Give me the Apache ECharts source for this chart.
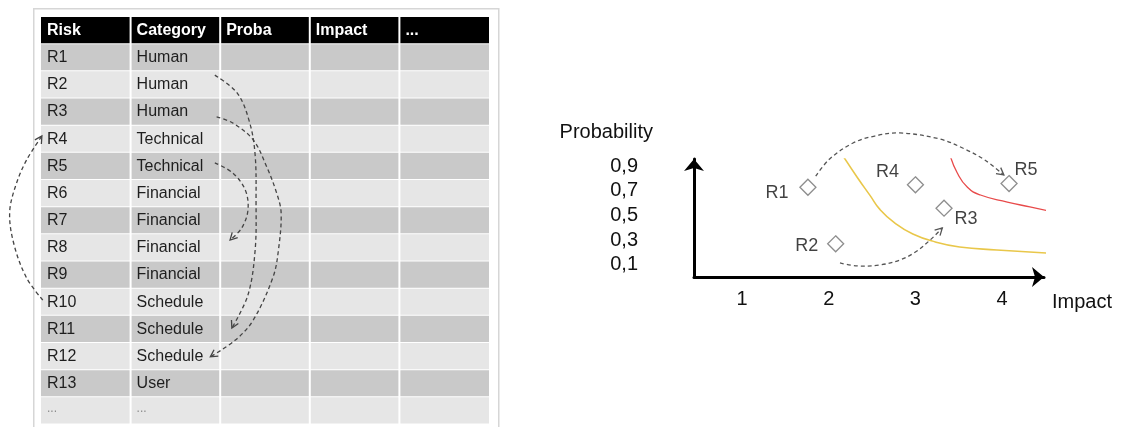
<!DOCTYPE html>
<html><head><meta charset="utf-8">
<script src="https://cdn.jsdelivr.net/npm/echarts@6/dist/echarts.min.js"></script>
<style>html,body{margin:0;padding:0;background:#fff}#c{width:1121px;height:427px}</style>
</head><body><div id="c"></div>
<script>
// ---------- table data ----------
const tableColumns = ['Risk', 'Category', 'Proba', 'Impact', '...'];
const riskIds = ['R1','R2','R3','R4','R5','R6','R7','R8','R9','R10','R11','R12','R13','...'];
const riskCategories = ['Human','Human','Human','Technical','Technical','Financial','Financial','Financial','Financial','Schedule','Schedule','Schedule','User','...'];
// dashed re-assignment arrows drawn over the table, in (column, row) units
const tableArrowR2toR11 = [[1.94,2.14],[2.19,2.80],[2.33,3.90],[2.39,5.08],[2.40,6.74],[2.39,8.58],[2.31,10.23],[2.13,11.45]];
const tableArrowR3toR12 = [[1.96,3.68],[2.14,3.90],[2.37,4.53],[2.52,5.52],[2.63,6.48],[2.68,7.21],[2.65,8.58],[2.59,9.57],[2.37,11.15],[2.17,11.89],[1.89,12.51]];
const tableArrowR5toR8 = [[1.94,5.37],[2.14,5.74],[2.28,6.37],[2.31,7.10],[2.24,7.77],[2.11,8.21]];
const tableArrowR10toR4 = [[0.02,10.42],[-0.16,9.61],[-0.30,8.39],[-0.35,7.21],[-0.28,6.18],[-0.16,5.26],[0.01,4.38]];

// ---------- chart data ----------
const chartRisks = ['R1','R2','R3','R4','R5'];
const chartImpact = [1.76, 2.08, 3.33, 3.00, 4.08];
const chartProbability = [0.73, 0.27, 0.56, 0.75, 0.76];
const impactTicks = [1, 2, 3, 4];
const probabilityTicks = [0.1, 0.3, 0.5, 0.7, 0.9];
const yellowThreshold = [[2.16,0.99],[2.33,0.81],[2.48,0.66],[2.59,0.55],[2.76,0.44],[2.97,0.35],[3.23,0.285],[3.51,0.244],[3.94,0.22],[4.52,0.195]];
const redThreshold = [[3.40,0.99],[3.48,0.85],[3.60,0.73],[3.75,0.667],[4.06,0.61],[4.32,0.57],[4.58,0.53]];
const chartArrowR1toR5 = [[1.85,0.82],[2.01,0.96],[2.28,1.09],[2.53,1.147],[2.82,1.172],[3.28,1.123],[3.57,1.041],[3.80,0.952],[4.02,0.83]];
const chartArrowR2toR3 = [[2.13,0.114],[2.33,0.09],[2.59,0.098],[2.82,0.138],[3.00,0.203],[3.17,0.301],[3.31,0.399]];

// ---------- styles (kept apart from data) ----------
const FONT = "'Liberation Sans', Arial, sans-serif";
const labelOffsets = { R1: [-31, 6], R2: [-29, 2], R3: [22, 11], R4: [-28, -13], R5: [17, -14] };

function cellText(col, row) {
  if (row === 0) return tableColumns[col];
  if (col === 0) return riskIds[row - 1];
  if (col === 1) return riskCategories[row - 1];
  return '';
}
const cellData = [];
for (let r = 0; r <= riskIds.length; r++) for (let c = 0; c < tableColumns.length; c++) cellData.push([c, r]);

function renderCell(params, api) {
  const col = api.value(0), row = api.value(1);
  const a = api.coord([col, row]), b = api.coord([col + 1, row + 1]);
  const x = Math.min(a[0], b[0]), y = Math.min(a[1], b[1]);
  const w = Math.abs(b[0] - a[0]), h = Math.abs(b[1] - a[1]);
  const header = row === 0;
  const lastRow = row === riskIds.length;
  const fill = header ? '#000' : (row % 2 === 1 ? '#c9c9c9' : '#e6e6e6');
  const li = col > 0 ? 1 : 0, ri = col < tableColumns.length - 1 ? 1 : 0;
  const txt = cellText(col, row);
  const children = [{ type: 'rect', shape: { x: x + li, y: y, width: w - li - ri, height: h - 1 }, style: { fill: fill } }];
  if (txt) {
    children.push({ type: 'text', style: {
      x: x + 6, y: y + h / 2 - (lastRow ? 2 : 0), text: txt,
      fill: header ? '#fff' : (lastRow ? '#8a8a8a' : '#1e1e1e'),
      font: (header ? 'bold ' : '') + (lastRow ? '12px ' : '16px ') + FONT,
      align: 'left', verticalAlign: 'middle' } });
  }
  return { type: 'group', children: children };
}

function arrowRenderer(paths, color) {
  return function (params, api) {
    const pts = paths[params.dataIndex].map(p => api.coord(p));
    const n = pts.length, tip = pts[n - 1], prev = pts[n - 2];
    const ang = Math.atan2(tip[1] - prev[1], tip[0] - prev[0]);
    const L = 8, s = 0.5;
    const h1 = [tip[0] - L * Math.cos(ang - s), tip[1] - L * Math.sin(ang - s)];
    const h2 = [tip[0] - L * Math.cos(ang + s), tip[1] - L * Math.sin(ang + s)];
    return { type: 'group', children: [
      { type: 'polyline', shape: { points: pts, smooth: 0.35 }, style: { stroke: color, lineWidth: 1.3, lineDash: [4, 3], fill: null } },
      { type: 'polyline', shape: { points: [h1, tip, h2] }, style: { stroke: color, lineWidth: 1.3, fill: null } }
    ] };
  };
}
const tableArrows = [tableArrowR2toR11, tableArrowR3toR12, tableArrowR5toR8, tableArrowR10toR4];
const chartArrows = [chartArrowR1toR5, chartArrowR2toR3];

const axisLineStyle = { show: true, onZero: false, symbol: ['none', 'arrow'], symbolSize: [15, 12], lineStyle: { color: '#000', width: 3 } };

const option = {
  animation: false,
  backgroundColor: '#fff',
  textStyle: { fontFamily: FONT },
  graphic: [{ type: 'rect', left: 33, top: 8, z: 0, shape: { width: 465, height: 440 }, style: { fill: '#fff', stroke: '#d6d6d6', lineWidth: 1.5 } }],
  grid: [
    { left: 694, top: 159, width: 350, height: 118 },
    { left: 41, top: 17, width: 448, height: 407.5 }
  ],
  xAxis: [
    { type: 'value', gridIndex: 0, min: 0.446, max: 4.483, axisLine: axisLineStyle,
      axisTick: { show: false }, splitLine: { show: false },
      axisLabel: { customValues: impactTicks, margin: 12, fontSize: 20, color: '#111', fontFamily: FONT },
      name: 'Impact', nameLocation: 'end', nameGap: 8,
      nameTextStyle: { fontSize: 20, color: '#111', fontFamily: FONT, align: 'left', verticalAlign: 'top', padding: [15, 0, 0, 0] } },
    { type: 'value', gridIndex: 1, min: 0, max: tableColumns.length, show: false }
  ],
  yAxis: [
    { type: 'value', gridIndex: 0, min: 0, max: 0.96, axisLine: axisLineStyle,
      axisTick: { show: false }, splitLine: { show: false },
      axisLabel: { customValues: probabilityTicks, margin: 56, fontSize: 20, color: '#111', fontFamily: FONT,
        formatter: v => v.toFixed(1).replace('.', ',') },
      name: 'Probability', nameLocation: 'end', nameGap: 17,
      nameTextStyle: { fontSize: 20, color: '#111', fontFamily: FONT, align: 'right', padding: [0, 41, 0, 0] } },
    { type: 'value', gridIndex: 1, min: 0, max: riskIds.length + 1, inverse: true, show: false }
  ],
  series: [
    { type: 'custom', xAxisIndex: 1, yAxisIndex: 1, z: 2, silent: true, renderItem: renderCell, data: cellData },
    { type: 'custom', xAxisIndex: 1, yAxisIndex: 1, z: 5, silent: true, clip: false,
      renderItem: arrowRenderer(tableArrows, '#444'), data: tableArrows.map((p, i) => [i, i]) },
    { type: 'line', xAxisIndex: 0, yAxisIndex: 0, smooth: true, showSymbol: false, silent: true, z: 3,
      lineStyle: { color: '#e9c74a', width: 1.6 }, data: yellowThreshold },
    { type: 'line', xAxisIndex: 0, yAxisIndex: 0, smooth: true, showSymbol: false, silent: true, z: 3,
      lineStyle: { color: '#e84a4a', width: 1.3 }, data: redThreshold },
    { type: 'custom', xAxisIndex: 0, yAxisIndex: 0, z: 4, silent: true, clip: false,
      renderItem: arrowRenderer(chartArrows, '#555'), data: chartArrows.map((p, i) => [i, i]) },
    { type: 'scatter', xAxisIndex: 0, yAxisIndex: 0, z: 10, symbol: 'diamond', symbolSize: 16,
      itemStyle: { color: '#fff', borderColor: '#707070', borderWidth: 1.3 },
      label: { show: true, position: 'inside', formatter: '{b}', fontSize: 18, color: '#111', fontFamily: FONT },
      data: chartRisks.map((name, i) => ({ name: name, value: [chartImpact[i], chartProbability[i]], label: { offset: labelOffsets[name] } })) }
  ]
};
const chart = echarts.init(document.getElementById('c'));
chart.setOption(option);
</script>
</body></html>
